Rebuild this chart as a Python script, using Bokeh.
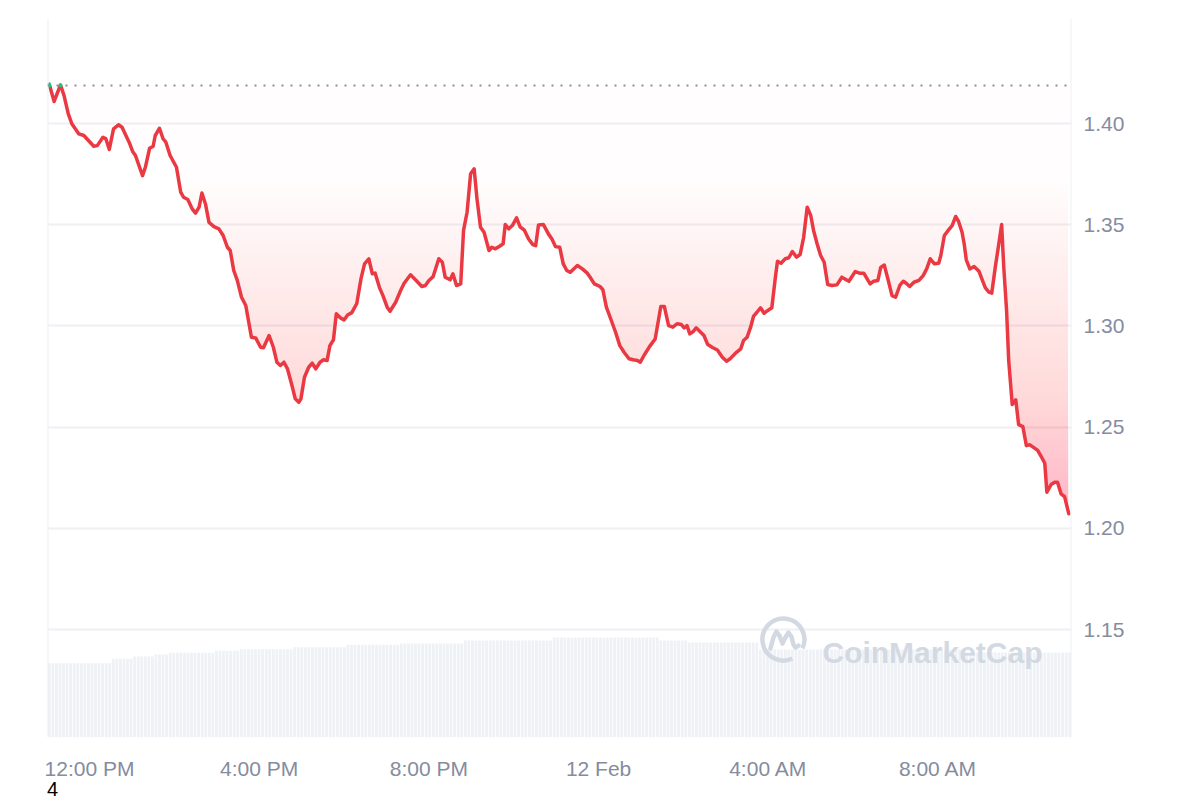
import numpy as np
from bokeh.plotting import figure
from bokeh.models import Range1d, FixedTicker, Span, Div
from bokeh.layouts import column
from bokeh.embed import file_html
from bokeh.resources import INLINE
from bokeh.core.properties import value

# ---------------- data ----------------
# minutes after 11:00 AM, 11 Feb
minutes = [3, 10, 19, 24, 30, 35, 45, 52, 66, 71, 79, 83, 88, 94, 101, 106, 116, 121, 125, 135,
           139, 145, 150, 153, 159, 164, 168, 174, 183, 189, 193, 199, 205, 210, 215, 219, 224, 229, 236, 243,
           249, 255, 259, 264, 269, 275, 281, 289, 295, 302, 306, 314, 320, 325, 330, 335, 340, 347, 351, 356,
           359, 364, 370, 375, 380, 386, 391, 396, 400, 405, 409, 415, 420, 425, 431, 438, 444, 449, 455, 460,
           464, 470, 475, 481, 485, 493, 500, 505, 514, 522, 530, 535, 540, 546, 554, 559, 563, 570, 574, 579,
           585, 589, 594, 599, 604, 608, 613, 618, 625, 629, 634, 640, 645, 648, 653, 658, 664, 669, 675, 681,
           687, 691, 695, 702, 709, 714, 719, 725, 730, 735, 740, 750, 757, 764, 768, 774, 782, 786, 791, 798,
           804, 810, 816, 823, 829, 835, 839, 845, 852, 860, 868, 873, 879, 885, 891, 897, 901, 905, 909, 914,
           918, 924, 929, 934, 941, 948, 955, 961, 966, 975, 981, 985, 990, 995, 999, 1004, 1009, 1014, 1018, 1025,
           1030, 1033, 1038, 1044, 1049, 1054, 1060, 1065, 1070, 1075, 1080, 1084, 1089, 1094, 1099, 1104, 1110, 1117, 1124, 1134,
           1143, 1149, 1155, 1164, 1169, 1175, 1179, 1184, 1189, 1195, 1200, 1206, 1211, 1215, 1220, 1226, 1233, 1239, 1244, 1249,
           1255, 1261, 1264, 1269, 1275, 1280, 1285, 1289, 1294, 1297, 1300, 1305, 1311, 1318, 1322, 1327, 1332, 1336, 1341, 1346,
           1350, 1353, 1357, 1360, 1365, 1370, 1374, 1380, 1385, 1390, 1396, 1401, 1406, 1411, 1414, 1420, 1425, 1429, 1434, 1439,
           1445]

prices = [1.4195, 1.4109, 1.4191, 1.4138, 1.4048, 1.3999, 1.3949, 1.3941, 1.3888, 1.3891, 1.3932, 1.3926, 1.3872, 1.3974, 1.3994, 1.3982, 1.3908, 1.3862, 1.3842, 1.3743,
          1.3784, 1.3878, 1.3888, 1.3941, 1.3977, 1.3925, 1.3908, 1.3842, 1.3784, 1.3661, 1.3636, 1.3625, 1.3580, 1.3557, 1.3587, 1.3657, 1.3603, 1.3512, 1.3491, 1.3480,
          1.3447, 1.3389, 1.3373, 1.3274, 1.3225, 1.3142, 1.3101, 1.2944, 1.2941, 1.2895, 1.2892, 1.2953, 1.2895, 1.2821, 1.2805, 1.2821, 1.2788, 1.2697, 1.2640, 1.2623,
          1.2640, 1.2747, 1.2796, 1.2816, 1.2788, 1.2821, 1.2833, 1.2829, 1.2903, 1.2932, 1.3060, 1.3040, 1.3030, 1.3054, 1.3066, 1.3111, 1.3234, 1.3307, 1.3332, 1.3258,
          1.3261, 1.3191, 1.3150, 1.3093, 1.3073, 1.3117, 1.3175, 1.3211, 1.3253, 1.3225, 1.3195, 1.3200, 1.3225, 1.3244, 1.3332, 1.3315, 1.3241, 1.3228, 1.3258, 1.3200,
          1.3208, 1.3472, 1.3562, 1.3752, 1.3776, 1.3628, 1.3488, 1.3463, 1.3373, 1.3389, 1.3381, 1.3394, 1.3406, 1.3501, 1.3480, 1.3496, 1.3534, 1.3490, 1.3473, 1.3430,
          1.3402, 1.3397, 1.3499, 1.3501, 1.3455, 1.3430, 1.3392, 1.3389, 1.3307, 1.3274, 1.3265, 1.3299, 1.3282, 1.3261, 1.3241, 1.3208, 1.3195, 1.3179, 1.3093, 1.3027,
          1.2969, 1.2903, 1.2870, 1.2838, 1.2833, 1.2829, 1.2821, 1.2859, 1.2898, 1.2936, 1.3096, 1.3096, 1.3002, 1.2994, 1.3011, 1.3007, 1.2991, 1.3002, 1.2961, 1.2973,
          1.2991, 1.2970, 1.2953, 1.2910, 1.2894, 1.2881, 1.2846, 1.2826, 1.2838, 1.2870, 1.2887, 1.2928, 1.2944, 1.2994, 1.3047, 1.3068, 1.3090, 1.3063, 1.3073, 1.3090,
          1.3241, 1.3320, 1.3310, 1.3332, 1.3337, 1.3368, 1.3340, 1.3353, 1.3438, 1.3587, 1.3546, 1.3472, 1.3406, 1.3348, 1.3315, 1.3205, 1.3200, 1.3203, 1.3241, 1.3221,
          1.3269, 1.3261, 1.3261, 1.3208, 1.3221, 1.3225, 1.3289, 1.3301, 1.3234, 1.3150, 1.3142, 1.3200, 1.3221, 1.3211, 1.3195, 1.3216, 1.3225, 1.3249, 1.3282, 1.3332,
          1.3307, 1.3310, 1.3348, 1.3447, 1.3475, 1.3496, 1.3541, 1.3517, 1.3463, 1.3406, 1.3327, 1.3282, 1.3294, 1.3270, 1.3233, 1.3188, 1.3167, 1.3162, 1.3290, 1.3406,
          1.3501, 1.3290, 1.3076, 1.2829, 1.2612, 1.2635, 1.2513, 1.2503, 1.2409, 1.2413, 1.2398, 1.2385, 1.2355, 1.2322, 1.2179, 1.2217, 1.2228, 1.2228, 1.2171, 1.2157,
          1.2072]

ref_price = 1.4188  # dotted reference (opening) price

tick_minutes = [60, 300, 540, 780, 1020, 1260]
tick_labels = ["12:00 PM", "4:00 PM", "8:00 PM", "12 Feb", "4:00 AM", "8:00 AM"]
price_ticks = [1.15, 1.20, 1.25, 1.30, 1.35, 1.40]

# volume (relative units), run-length: level and number of 5-minute bars
vol_levels = [3.72, 3.94, 4.06, 4.16, 4.24, 4.34, 4.42, 4.52, 4.64, 4.71, 4.86, 5.01, 4.86, 4.76, 4.41, 4.26]
vol_runs = [18, 6, 6, 4, 13, 7, 15, 15, 15, 18, 25, 30, 8, 20, 58, 30]

# ---------------- styling ----------------
RED = "#ea3943"
GREEN = "#16c784"
LABEL = "#858ca0"
GRID = "#eff0f3"
FONT = "Liberation Sans"

x_start, x_end = 0.6, 1448.8
y_bot, y_top = 1.0967, 1.4519
FW, FH = 1024, 719

p = figure(frame_width=FW, frame_height=FH,
           x_range=Range1d(x_start, x_end), y_range=Range1d(y_bot, y_top),
           y_axis_location="right", output_backend="svg", toolbar_location=None,
           min_border_left=47, min_border_top=18, min_border_bottom=35, min_border_right=70,
           background_fill_color="white", border_fill_color="white")
p.outline_line_color = None
p.extra_y_ranges = {"vol": Range1d(0, 36)}

# axes
xa = p.xaxis[0]
xa.ticker = FixedTicker(ticks=tick_minutes)
xa.major_label_overrides = {float(m): l for m, l in zip(tick_minutes, tick_labels)}
ya = p.yaxis[0]
ya.ticker = FixedTicker(ticks=price_ticks)
ya.major_label_overrides = {t: f"{t:.2f}" for t in price_ticks}
for ax in (xa, ya):
    ax.axis_line_color = None
    ax.major_tick_line_color = None
    ax.minor_tick_line_color = None
    ax.major_tick_out = 0
    ax.major_tick_in = 0
    ax.major_label_text_font = FONT
    ax.major_label_text_font_size = "21px"
    ax.major_label_text_color = LABEL
xa.major_label_standoff = 19
ya.major_label_standoff = 12

p.xgrid.visible = False
p.ygrid.ticker = FixedTicker(ticks=price_ticks)
p.ygrid.grid_line_color = GRID
p.ygrid.grid_line_width = 2

# frame side lines
for loc in (x_start, x_end):
    p.add_layout(Span(location=loc, dimension="height", line_color="#eef0f3", line_width=2))

# volume bars
vol = np.repeat(vol_levels, vol_runs)
nb = len(vol)
step = (x_end - x_start) / nb
bar_x = x_start + step * (np.arange(nb) + 0.5)
p.vbar(x=bar_x, top=vol, bottom=0, width=step * 0.78, y_range_name="vol",
       fill_color="#eef1f5", line_color=None)

# gradient fill between line and reference (stacked layers)
mins = np.array(minutes, dtype=float)
pr = np.array(prices)
low = pr.min()
N = 70
h = (ref_price - low) / N
prevO = 0.0
for k in range(N):
    t = (k + 0.5) / N
    O = 0.012 + 0.25 * t ** 1.8
    a = 1 - (1 - O) / (1 - prevO)
    prevO = O
    level = ref_price - k * h
    y1 = np.minimum(pr, level)
    y2 = np.full_like(pr, level)
    p.varea(x=mins, y1=y1, y2=y2, fill_color=RED, fill_alpha=a)

# reference dotted line
p.add_layout(Span(location=ref_price, dimension="width", line_color="#8f8f8f",
                  line_width=2, line_dash="2 7"))

# price line, coloured by position relative to reference
def split_runs(xs, ys, ref):
    runs = []
    flag = ys[0] >= ref
    cx, cy = [xs[0]], [ys[0]]
    for i in range(1, len(xs)):
        x0, y0, x1, y1 = xs[i - 1], ys[i - 1], xs[i], ys[i]
        f = y1 >= ref
        if f != flag:
            tt = (ref - y0) / (y1 - y0)
            xc = x0 + tt * (x1 - x0)
            cx.append(xc); cy.append(ref)
            runs.append((flag, cx, cy))
            cx, cy = [xc], [ref]
            flag = f
        cx.append(x1); cy.append(y1)
    runs.append((flag, cx, cy))
    return runs

runs = split_runs(minutes, prices, ref_price)
red_xs = [r[1] for r in runs if not r[0]]
red_ys = [r[2] for r in runs if not r[0]]
grn_xs = [r[1] for r in runs if r[0]]
grn_ys = [r[2] for r in runs if r[0]]
p.multi_line(xs=red_xs, ys=red_ys, line_color=RED, line_width=3.5, line_join="round", line_cap="round")
if grn_xs:
    p.multi_line(xs=grn_xs, ys=grn_ys, line_color=GREEN, line_width=3.5, line_join="round", line_cap="round")

# watermark
WM = "#d3d9e3"
mpp = (x_end - x_start) / FW
ppp = (y_top - y_bot) / FH
wm_cx, wm_cy = 1041.4, 1.1451
p.arc(x=[wm_cx], y=[wm_cy], radius=21, radius_units="screen",
      start_angle=np.deg2rad(-25), end_angle=np.deg2rad(295),
      line_color=WM, line_width=4.5)
wave_dx = [-13, -10, -7, -4, -1, 2, 5, 8, 10, 12, 15]
wave_dy = [9, -2, -8, -4, 4, -2, -7, -3, 5, 8, 6]
p.line(x=[wm_cx + d * mpp for d in wave_dx], y=[wm_cy - d * ppp for d in wave_dy],
       line_color=WM, line_width=4.5, line_join="round", line_cap="round")
p.text(x=[1096.6], y=[1.1387], text=["CoinMarketCap"], text_font=value(FONT),
       text_font_style="bold", text_font_size="30px", text_color=WM, text_baseline="alphabetic")

note = Div(text='<div style="position:relative;top:-8px;padding-left:42px;font-family:\'Liberation Sans\';font-size:20px;line-height:20px;color:#000;">4</div>',
           width=200, height=22)

layout = column(p, note)
open("out.html", "w").write(file_html(layout, INLINE))
